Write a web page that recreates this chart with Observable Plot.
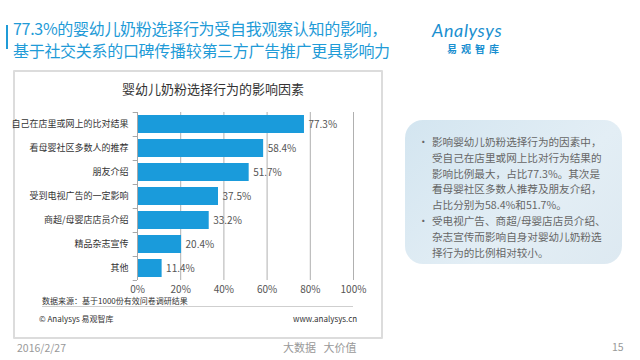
<!DOCTYPE html>
<html>
<head>
<meta charset="utf-8">
<script src="https://cdn.jsdelivr.net/npm/d3@7"></script>
<script src="https://cdn.jsdelivr.net/npm/@observablehq/plot@0.6"></script>
<style>
  html, body { margin: 0; padding: 0; background: #fff; }
  body { width: 640px; height: 360px; position: relative; overflow: hidden;
         font-family: "Noto Sans CJK SC", "Noto Sans", sans-serif; }
  .abs { position: absolute; white-space: nowrap; }
  #title { left: 13px; top: 17px; color: #1f9bd7; font-size: 16px; line-height: 22px; letter-spacing: -0.3px; }
  #bar { left: 6px; top: 25px; width: 2px; height: 24px; background: #1f9bd7; }
  #logo1 { left: 432px; top: 21px; line-height: 18px; color: #1a8fd0; font-family: Lato, sans-serif; font-style: italic; font-size: 18px; letter-spacing: 0.6px; }
  #logo2 { left: 447px; top: 44px; line-height: 10px; color: #1a8fd0; font-size: 10px; font-weight: bold; letter-spacing: 4px; }
  #box { left: 13px; top: 70px; width: 366px; height: 265px; border: 2px solid #dcdcdc; border-radius: 1px; }
  #ctitle { left: 13px; width: 400px; top: 79px; text-align: center; font-size: 13px; color: #333; }
  #plot { left: 0px; top: 100px; }
  #src { left: 42px; top: 295px; font-size: 8px; color: #333; }
  #hline { left: 42px; top: 306px; width: 311px; height: 1px; background: #cfcfcf; }
  #copy { left: 39px; top: 313px; font-size: 8px; color: #333; }
  #www { left: 293px; top: 313px; font-size: 8px; color: #333; }
  #note { left: 405px; top: 120px; width: 217px; height: 144px; border-radius: 18px;
          background: linear-gradient(135deg, #d3e5f0 0%, #e3eef5 60%, #dde9f1 100%); }
  #notetext { left: 418px; top: 134px; font-size: 10.6px; line-height: 15.8px; color: #666; }
  #notetext .b { display: inline-block; width: 14px; }
  #notetext .i { display: inline-block; width: 14px; }
  #date { left: 17px; top: 340px; font-size: 10.5px; color: #999; }
  #slogan { left: 283px; top: 339px; font-size: 11px; color: #999; }
  #page { left: 612px; top: 339px; font-size: 10.5px; color: #999; }
</style>
</head>
<body>
<div id="bar" class="abs"></div>
<div id="title" class="abs">77.3%的婴幼儿奶粉选择行为受自我观察认知的影响，<br>基于社交关系的口碑传播较第三方广告推广更具影响力</div>
<div id="logo1" class="abs">Analysys</div>
<div id="logo2" class="abs">易观智库</div>
<div id="box" class="abs"></div>
<div id="ctitle" class="abs">婴幼儿奶粉选择行为的影响因素</div>
<div id="plot" class="abs"></div>
<div id="src" class="abs">数据来源：基于1000份有效问卷调研结果</div>
<div id="hline" class="abs"></div>
<div id="copy" class="abs">© Analysys 易观智库</div>
<div id="www" class="abs">www.analysys.cn</div>
<div id="note" class="abs"></div>
<div id="notetext" class="abs"><span class="b">•</span>影响婴幼儿奶粉选择行为的因素中，<br><span class="i"></span>受自己在店里或网上比对行为结果的<br><span class="i"></span>影响比例最大，占比77.3%。其次是<br><span class="i"></span>看母婴社区多数人推荐及朋友介绍，<br><span class="i"></span>占比分别为58.4%和51.7%。<br><span class="b">•</span>受电视广告、商超/母婴店店员介绍、<br><span class="i"></span>杂志宣传而影响自身对婴幼儿奶粉选<br><span class="i"></span>择行为的比例相对较小。</div>
<div id="date" class="abs">2016/2/27</div>
<div id="slogan" class="abs">大数据&nbsp;&nbsp;&nbsp;大价值</div>
<div id="page" class="abs">15</div>
<script>
const categories = ["自己在店里或网上的比对结果", "看母婴社区多数人的推荐", "朋友介绍", "受到电视广告的一定影响", "商超/母婴店店员介绍", "精品杂志宣传", "其他"];
const values = [77.3, 58.4, 51.7, 37.5, 33.2, 20.4, 11.4];
const xTicks = [0, 20, 40, 60, 80, 100];

const data = categories.map((c, i) => ({c, v: values[i]}));
const font = '"Noto Sans CJK SC", "Noto Sans", sans-serif';

const chart = Plot.plot({
  width: 380,
  height: 200,
  marginLeft: 137,
  marginRight: 27,
  marginTop: 12,
  marginBottom: 20,
  style: {fontFamily: font, background: "transparent", overflow: "visible"},
  x: {domain: [0, 100], label: null},
  y: {domain: categories, paddingInner: 0.25, paddingOuter: 0.125, label: null},
  marks: [
    Plot.ruleX(xTicks.slice(1), {stroke: "#b0b0b0", strokeWidth: 1}),
    Plot.barX(data, {x: "v", y: "c", fill: "#1a9bdb"}),
    Plot.text(data, {x: "v", y: "c", text: d => d.v.toFixed(1) + "%", textAnchor: "start", dx: 4, fill: "#555", fontSize: 10}),
    Plot.ruleX([0], {stroke: "#a8a8a8"}),
    Plot.ruleY(categories, {y: d => d, x1: -2, x2: 0, dy: -12, stroke: "#a8a8a8"}),
    Plot.ruleY(categories.slice(-1), {y: d => d, x1: -2, x2: 0, dy: 12, stroke: "#a8a8a8"}),
    Plot.axisX({ticks: xTicks, tickSize: 0, tickPadding: 5, tickFormat: d => d + "%", fontSize: 10, color: "#555", label: null}),
    Plot.axisY({tickSize: 0, tickPadding: 9, fontSize: 9, color: "#333", label: null})
  ]
});
document.getElementById("plot").appendChild(chart);
</script>
</body>
</html>
